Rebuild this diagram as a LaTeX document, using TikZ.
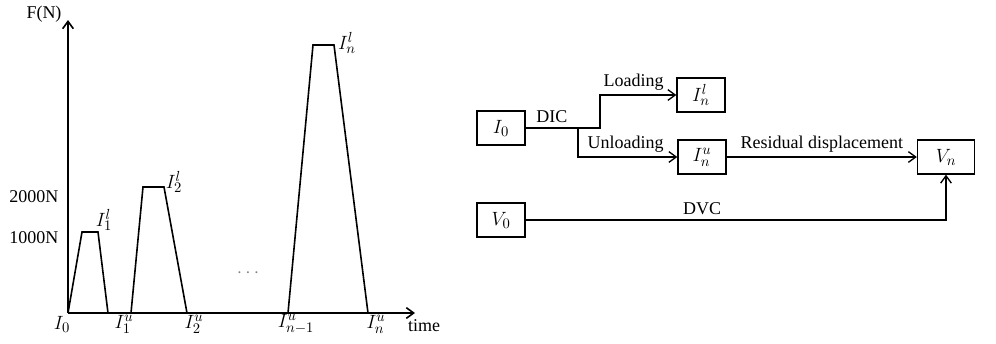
\documentclass[tikz,border=0pt]{standalone}
\usepackage{fontspec}
\setmainfont{Liberation Serif}
\usetikzlibrary{arrows.meta,positioning}

\begin{document}
\begin{tikzpicture}[
  x=0.75pt, y=-0.75pt,
  font=\fontsize{13.5}{15}\selectfont,
  mlab/.style={font=\fontsize{15.5}{17}\selectfont, inner sep=1pt},
  box/.style={draw, line width=1pt, minimum width=36pt, minimum height=25.5pt,
    inner sep=2pt, mlab},
  arr/.style={-{Straight Barb[length=5.5pt,width=8pt]}, line width=1pt},
  curve/.style={line width=1.2pt, line join=miter},
]
\useasboundingbox (0,0) rectangle (996,343);

% force history
\coordinate (orig) at (68,313);
\coordinate (ytip) at (68,20);
\coordinate (xtip) at (415,313);
\draw[arr, line width=1.2pt] (orig) -- (ytip);
\draw[arr, line width=1.2pt] (orig) -- (xtip);
\draw[curve] (orig) -- (82,232) -- (98,232) -- (108,313);
\draw[curve] (131,313) -- (143,187) -- (164,187) -- (187,313);
\draw[curve] (288,313) -- (313,45) -- (334,45) -- (368,313);

\node (fn) at (44,14) {F(N)};
\node[anchor=east] (f2k) at (63,197) {2000N};
\node[anchor=east] (f1k) at (63,238) {1000N};
\node[mlab] (l1) at (104,220) {$I_1^l$};
\node[mlab] (l2) at (174,182) {$I_2^l$};
\node[mlab] (ln) at (347,43) {$I_n^l$};
\node[text=gray, mlab] (dots) at (248,273) {$\cdots$};
\node[mlab] (i0lab) at (62,324) {$I_0$};
\node[mlab] (u1) at (124,324) {$I_1^u$};
\node[mlab] (u2) at (194,324) {$I_2^u$};
\node[mlab] (un1) at (296,324) {$I_{n-1}^u$};
\node[mlab] (un) at (376,324) {$I_n^u$};
\node (tm) at (424,326) {time};

% image correlation chain
\node[box] (i0) at (501,128) {$I_0$};
\node[box] (inl) at (701,95) {$I_n^l$};
\node[box] (inu) at (702,157) {$I_n^u$};
\node[box, minimum width=42.75pt] (vn) at (946,157) {$V_n$};
\node[box] (v0) at (501,220) {$V_0$};

\coordinate (split) at (578,128);
\coordinate (bend) at (600,128);

\draw[arr] (i0.east) -- node[above] {DIC} (split) -- (bend)
  |- node[above, pos=0.72] {Loading} (inl.west);
\draw[arr] (split) |- node[above, pos=0.74] {Unloading} (inu.west);
\draw[arr] (inu) -- node[above] {Residual displacement} (vn);
\draw[arr] (v0.east) -| node[above, pos=0.21] {DVC} (vn.south);
\end{tikzpicture}
\end{document}
